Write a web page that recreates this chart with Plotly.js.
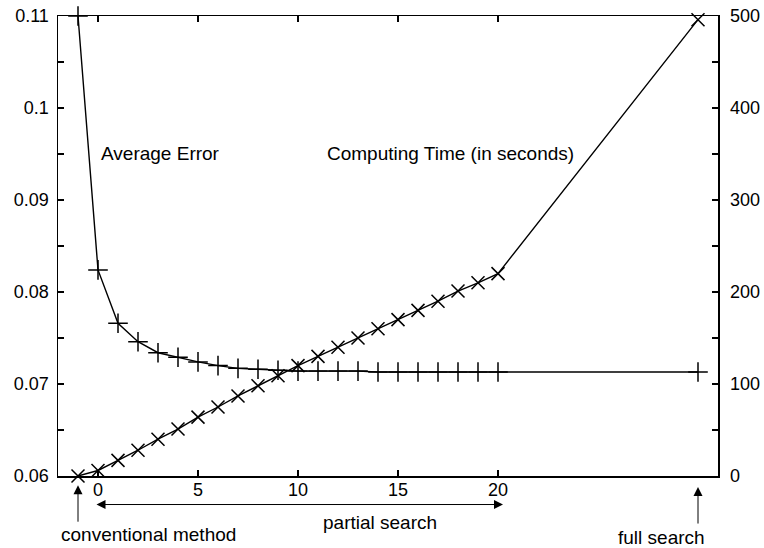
<!DOCTYPE html>
<html>
<head>
<meta charset="utf-8">
<script src="https://cdn.plot.ly/plotly-3.0.1.min.js"></script>
<style>html,body{margin:0;padding:0;background:#fff;}#chart{width:764px;height:548px;}</style>
</head>
<body>
<div id="chart"></div>
<script>
// Data
const errorX = [-1, 0, 1, 2, 3, 4, 5, 6, 7, 8, 9, 10, 11, 12, 13, 14, 15, 16, 17, 18, 19, 20, 30];
const averageError = [0.1100, 0.0824, 0.0766, 0.0746, 0.0734, 0.0729, 0.0724, 0.0720, 0.0717, 0.0716, 0.0715, 0.0714, 0.0714, 0.0714, 0.0714, 0.0713, 0.0713, 0.0713, 0.0713, 0.0713, 0.0713, 0.0713, 0.0713];
const timeX = [-1, 0, 1, 2, 3, 4, 5, 6, 7, 8, 9, 10, 11, 12, 13, 14, 15, 16, 17, 18, 19, 20, 30];
const computingTime = [0, 6, 17, 28, 40, 51, 64, 75, 87, 98, 109, 120, 130, 140, 150, 160, 170, 180, 190, 201, 210, 220, 496];
const xTickVals = [0, 5, 10, 15, 20];
const xTickText = ['0', '5', '10', '15', '20'];
const leftTickVals = [0.06, 0.07, 0.08, 0.09, 0.10, 0.11];
const leftTickText = ['0.06', '0.07', '0.08', '0.09', '0.1', '0.11'];
const rightTickVals = [0, 100, 200, 300, 400, 500];
const rightTickText = ['0', '100', '200', '300', '400', '500'];

const font = {family: 'Liberation Sans, Arial, sans-serif', size: 19, color: '#000'};
const tickFont = {family: 'Liberation Sans, Arial, sans-serif', size: 18, color: '#000'};

const traces = [
  {
    x: errorX, y: averageError, type: 'scatter', mode: 'lines+markers', yaxis: 'y',
    line: {color: '#000', width: 1.4},
    marker: {symbol: 'cross-thin', size: 14, color: '#000', line: {color: '#000', width: 1.5}},
    hoverinfo: 'skip', cliponaxis: false
  },
  {
    x: timeX, y: computingTime, type: 'scatter', mode: 'lines+markers', yaxis: 'y2',
    line: {color: '#000', width: 1.4},
    marker: {symbol: 'x-thin', size: 13, color: '#000', line: {color: '#000', width: 1.5}},
    hoverinfo: 'skip', cliponaxis: false
  }
];

const arrowStyle = {showarrow: true, arrowhead: 2, arrowsize: 1.8, arrowwidth: 1, arrowcolor: '#000', standoff: 0, startstandoff: 0, text: ''};

const layout = {
  width: 764, height: 548,
  margin: {l: 58, r: 46, t: 16, b: 72},
  paper_bgcolor: '#fff', plot_bgcolor: '#fff',
  showlegend: false,
  font: font,
  xaxis: {
    range: [-2, 31], showgrid: false, zeroline: false,
    showline: true, linecolor: '#000', linewidth: 1.5, mirror: 'ticks',
    ticks: 'inside', ticklen: 6, tickwidth: 1.2, tickcolor: '#000',
    tickvals: xTickVals, ticktext: xTickText, ticklabelstandoff: -3,
    tickfont: tickFont
  },
  yaxis: {
    range: [0.06, 0.11], showgrid: false, zeroline: false,
    showline: true, linecolor: '#000', linewidth: 1.5,
    ticks: 'inside', ticklen: 6, tickwidth: 1.2, tickcolor: '#000',
    tickvals: leftTickVals, ticktext: leftTickText, ticklabelstandoff: 4,
    minor: {dtick: 0.005, tick0: 0.06, ticks: 'inside', ticklen: 6, tickwidth: 1.2, tickcolor: '#000', showgrid: false},
    tickfont: tickFont
  },
  yaxis2: {
    range: [0, 500], overlaying: 'y', side: 'right', showgrid: false, zeroline: false,
    showline: true, linecolor: '#000', linewidth: 1.5,
    ticks: 'inside', ticklen: 6, tickwidth: 1.2, tickcolor: '#000',
    tickvals: rightTickVals, ticktext: rightTickText, ticklabelstandoff: 7,
    minor: {dtick: 50, tick0: 0, ticks: 'inside', ticklen: 6, tickwidth: 1.2, tickcolor: '#000', showgrid: false},
    tickfont: tickFont
  },
  annotations: [
    {text: 'Average Error', xref: 'x', yref: 'paper', x: 0.05, y: 0.702, xanchor: 'left', yanchor: 'middle', showarrow: false, font: font},
    {text: 'Computing Time (in seconds)', xref: 'x', yref: 'paper', x: 11.35, y: 0.702, xanchor: 'left', yanchor: 'middle', showarrow: false, font: font},
    {text: 'conventional method', xref: 'x', yref: 'paper', x: -1.95, y: -0.128, xanchor: 'left', yanchor: 'middle', showarrow: false, font: font},
    {text: 'partial search', xref: 'x', yref: 'paper', x: 14.1, y: -0.1, xanchor: 'center', yanchor: 'middle', showarrow: false, font: font},
    {text: 'full search', xref: 'x', yref: 'paper', x: 25.9, y: -0.133, xanchor: 'left', yanchor: 'middle', showarrow: false, font: font},
    Object.assign({xref: 'x', yref: 'paper', x: -1, y: -0.02, ax: 0, ay: 38}, arrowStyle),
    Object.assign({xref: 'x', yref: 'paper', x: 30, y: -0.024, ax: 0, ay: 38}, arrowStyle),
    Object.assign({xref: 'x', yref: 'paper', x: 20.25, y: -0.062, axref: 'x', ax: -0.15, ay: 0, startarrowhead: 2, startarrowsize: 1.8, arrowside: 'end+start'}, arrowStyle)
  ]
};

Plotly.newPlot('chart', traces, layout, {staticPlot: true, displayModeBar: false});
</script>
</body>
</html>
